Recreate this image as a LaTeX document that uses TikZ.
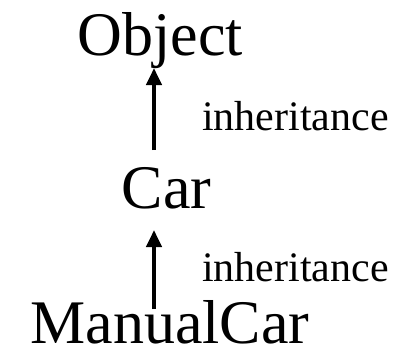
\documentclass[tikz,border=0pt]{standalone}
\usepackage{fontspec}
\setmainfont{Liberation Serif}
\usetikzlibrary{arrows.meta}
\begin{document}
\begin{tikzpicture}[x=1bp,y=-1bp,
  cls/.style={inner sep=0pt, anchor=base, font=\fontsize{62bp}{70bp}\selectfont},
  lbl/.style={inner sep=0pt, anchor=base west, font=\fontsize{42bp}{48bp}\selectfont},
  inh/.style={line width=4bp, -{Triangle[width=15bp,length=17bp]}}]
\useasboundingbox (0,0) rectangle (403,362);
\node[cls] (object) at (160.5,55) {Object};
\node[cls] (car) at (166.5,208) {Car};
\node[cls] (manual) at (170,343) {ManualCar};
\coordinate (a1s) at (154,150);
\coordinate (a1e) at (154,68);
\coordinate (a2s) at (154,309);
\coordinate (a2e) at (154,230);
\draw[inh] (a1s) -- (a1e);
\draw[inh] (a2s) -- (a2e);
\node[lbl] (l1) at (202,130) {inheritance};
\node[lbl] (l2) at (202,281) {inheritance};
\end{tikzpicture}
\end{document}
